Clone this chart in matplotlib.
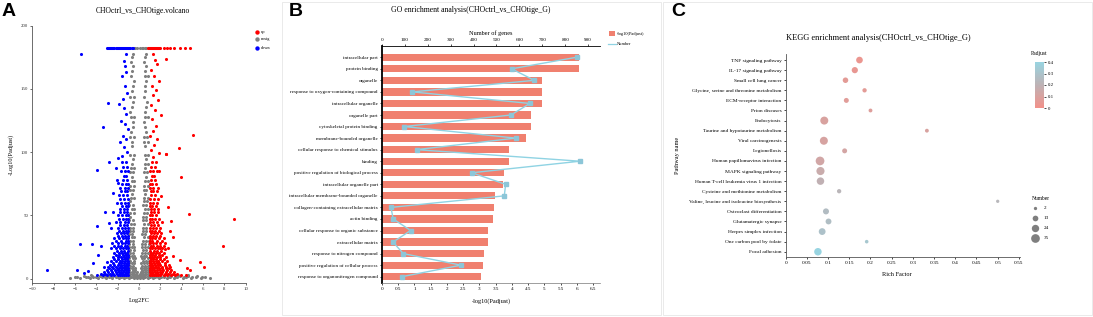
import matplotlib
matplotlib.use('Agg')
import numpy as np
import matplotlib.pyplot as plt
from matplotlib.colors import LinearSegmentedColormap
from matplotlib.patches import Rectangle

plt.rcParams['font.family'] = ['Liberation Serif', 'DejaVu Serif']

# ---------------- panel A : volcano ----------------
gray_rows = [
    (0.5, [-6.5, -5.5, -4.6, -3.8, -3.1, -2.5, -1.9, -1.4, -0.9, -0.5, -0.2, 0.1, 0.4, 0.8, 1.3, 1.9, 2.6, 3.3, 4.1, 4.9, 5.8, 6.7]),
    (1, [-6.0, -5.0, -4.3, -3.5, -2.8, -2.2, -1.7, -1.2, -0.75, -0.4, -0.1, 0.2, 0.5, 0.9, 1.4, 1.8, 2.3, 2.9, 3.6, 4.4, 5.3, 6.2]),
    (1.5, [-5.8, -4.8, -4.0, -3.2, -2.6, -2.0, -1.5, -1.0, -0.6, -0.3, 0.0, 0.3, 0.6, 1.0, 1.5, 2.1, 2.7, 3.4, 4.2, 5.0, 5.9]),
    (2.2, [-5.2, -4.4, -3.7, -3.0, -2.4, -1.8, -1.3, -0.8, -0.45, -0.15, 0.15, 0.45, 0.8, 1.2, 1.7, 2.3, 3.0, 3.8, 4.6, 5.4]),
    (3, [-4.5, -3.6, -2.9, -0.9, -0.6, -0.3, 0.0, 0.3, 0.6, 0.9, 2.9, 3.7, 4.6]),
    (4, [-0.85, -0.55, -0.3, 0.05, 0.3, 0.55, 0.8]),
    (5, [-0.95, -0.7, -0.45, -0.2, 0.15, 0.4, 0.65, 0.9]),
    (6.5, [-0.9, -0.6, -0.35, 0.25, 0.55, 0.85]),
    (8, [-0.9, -0.65, -0.4, 0.2, 0.45, 0.7, 0.9]),
    (10, [-0.85, -0.55, 0.3, 0.6, 0.85]),
    (12, [-0.95, -0.7, -0.45, 0.2, 0.45, 0.75]),
    (14, [-0.8, -0.5, 0.35, 0.65, 0.9]),
    (16, [-0.9, -0.6, -0.35, 0.25, 0.5, 0.8]),
    (18, [-0.95, -0.7, -0.45, 0.2, 0.45, 0.7]),
    (20, [-0.85, -0.6, 0.3, 0.6, 0.85]),
    (22.5, [-0.8, -0.5, 0.4, 0.7]),
    (25, [-0.95, -0.7, -0.45, 0.25, 0.55, 0.8]),
    (27.5, [-0.9, -0.6, 0.3, 0.6, 0.9]),
    (30, [-0.8, -0.55, 0.35, 0.65, 0.9]),
    (32.5, [-0.7, -0.45, 0.5, 0.8]),
    (35, [-0.9, -0.65, 0.3, 0.6]),
    (37.5, [-0.85, -0.55, 0.35, 0.7]),
    (40, [-0.85, -0.55, 0.4, 0.7]),
    (43, [-0.75, -0.5, 0.5, 0.8]),
    (46, [-0.9, -0.6, 0.35, 0.65]),
    (49, [-0.85, 0.4, 0.7]),
    (52, [-0.8, -0.5, 0.45, 0.75]),
    (55, [-0.7, -0.45, 0.55, 0.85]),
    (58, [-0.9, -0.6, 0.4, 0.7]),
    (61, [-0.8, 0.45, 0.75]),
    (64, [-0.75, -0.5, 0.5, 0.8]),
    (67, [-0.65, 0.6]),
    (70, [-0.85, -0.6, 0.45, 0.7]),
    (73.5, [-0.8, -0.5, 0.5, 0.8]),
    (77, [-0.7, -0.45, 0.55, 0.85]),
    (80.5, [-0.65, 0.65]),
    (84, [-0.8, -0.55, 0.5, 0.75]),
    (87.5, [-0.75, -0.5, 0.55]),
    (91, [-0.7, 0.6, 0.85]),
    (94.5, [-0.6, 0.7]),
    (98, [-0.85, -0.5, 0.55, 0.8]),
    (105, [-0.65, 0.6]),
    (108, [-0.7, 0.5, 0.8]),
    (112, [-0.8, -0.5, 0.5, 0.75]),
    (116, [-0.75, 0.65]),
    (120, [-0.6, 0.6]),
    (124, [-0.55, 0.5]),
    (128, [-0.75, -0.45, 0.55, 0.8]),
    (132, [-0.8, 0.6]),
    (136, [-0.65, 0.65]),
    (140, [-0.6, 0.75]),
    (144, [-0.8, -0.5, 0.5]),
    (148, [-0.7, 0.55]),
    (152, [-0.6, 0.6]),
    (156, [-0.5, 0.7]),
    (160, [-0.75, 0.55, 0.8]),
    (164, [-0.65, 0.6]),
    (168, [-0.55, 0.65]),
    (171, [-0.75, 0.5]),
    (175, [-0.7, 0.6]),
    (178, [-0.6, 0.7]),
    (182, [-0.5, -0.35, -0.2, 0.1, 0.25, 0.4, 0.55, 0.7]),
]

blue_rows = [
    (3, [-1.0, -1.2, -1.4, -1.6, -1.8, -2.0, -2.3, -2.6, -3.0, -3.4, -3.9]),
    (4, [-1.1, -1.3, -1.55, -1.75, -2.05, -2.4, -2.75, -3.15, -3.6]),
    (5, [-1.05, -1.25, -1.5, -1.7, -1.9, -2.2, -2.5, -2.9, -3.3]),
    (6.5, [-1.0, -1.2, -1.45, -1.65, -1.95, -2.25, -2.6, -3.0]),
    (8, [-1.0, -1.15, -1.35, -1.6, -1.85, -2.1, -2.4, -2.8]),
    (9.5, [-1.1, -1.3, -1.55, -1.8, -2.15, -2.5, -2.9]),
    (11, [-1.0, -1.2, -1.45, -1.7, -2.0, -2.3, -2.7]),
    (12.5, [-1.0, -1.15, -1.4, -1.65, -1.9, -2.4]),
    (14, [-1.05, -1.3, -1.55, -1.8, -2.2, -2.6]),
    (15.5, [-1.1, -1.35, -1.6, -1.95, -2.35]),
    (17, [-1.0, -1.2, -1.4, -1.7, -2.0, -2.4]),
    (18.5, [-1.0, -1.25, -1.5, -1.85, -2.15]),
    (20, [-1.1, -1.3, -1.6, -1.9, -2.3]),
    (22, [-1.05, -1.4, -1.7, -2.05]),
    (24, [-1.0, -1.25, -1.5, -1.8, -2.2, -2.6]),
    (26, [-1.1, -1.3, -1.65, -1.95, -2.35]),
    (28, [-1.05, -1.35, -1.6, -2.0, -2.5]),
    (30, [-1.0, -1.25, -1.7, -2.15]),
    (32, [-1.0, -1.2, -1.5, -1.9, -2.3]),
    (34, [-1.05, -1.3, -1.6, -2.0]),
    (36, [-1.1, -1.4, -1.7, -2.1]),
    (38, [-1.0, -1.25, -1.5, -1.85]),
    (40, [-1.0, -1.3, -1.6, -2.0, -2.6]),
    (42.5, [-1.1, -1.45, -1.75]),
    (45, [-1.05, -1.35, -1.8, -2.2]),
    (47.5, [-1.0, -1.2, -1.5, -1.9]),
    (50, [-1.0, -1.25, -1.6, -2.0]),
    (52.5, [-1.15, -1.4, -1.75]),
    (55, [-1.1, -1.45, -1.8]),
    (57.5, [-1.0, -1.25, -1.6]),
    (60, [-1.0, -1.3, -1.7, -2.1]),
    (63, [-1.05, -1.4, -1.8]),
    (66, [-1.15, -1.5, -1.9]),
    (69, [-1.1, -1.3, -1.65]),
    (72, [-1.0, -1.35, -1.75]),
    (75, [-1.0, -1.25, -1.6]),
    (78, [-1.1, -1.5, -2.1]),
    (81.5, [-1.2, -1.45]),
    (85, [-1.0, -1.3, -1.7]),
    (88, [-1.1, -1.5]),
    (92, [-1.2, -1.6]),
    (182, [-3.0, -2.9, -2.8, -2.7, -2.6, -2.5, -2.4, -2.3, -2.2, -2.1, -2.0, -1.9, -1.8,
           -1.7, -1.6, -1.5, -1.4, -1.3, -1.2, -1.1, -1.0, -0.9, -0.8, -0.7, -0.6]),
]
blue_extra_x = [-1.2, -1.4, -1.3, -1.2, -1.6, -1.3, -1.1, -1.5, -1.9, -1.4, -1.2, -1.7, -1.3, -1.0,
                -1.5, -1.2, -1.8, -1.4, -1.1, -1.6, -2.0, -5.4, -2.9, -3.4, -3.96, -2.8, -3.2, -3.96,
                -2.8, -2.46, -5.5, -4.4, -8.6, -3.6, -3.8, -5.8, -4.8, -2.2, -2.0, -2.4, -4.3, -3.3,
                -3.0, -5.2]
blue_extra_y = [178, 172, 168, 163, 160, 152, 147, 142, 138, 135, 130, 125, 122, 118,
                113, 110, 108, 104, 100, 97, 95, 178, 139, 120, 86, 92, 52.7, 41.8,
                44, 53, 27.3, 27.3, 6.6, 25.4, 18.8, 6.7, 5.6, 87.6, 75.7, 68, 12, 9.5,
                13.5, 4.3]

red_rows = [
    (3, [1.0, 1.2, 1.4, 1.6, 1.8, 2.0, 2.3, 2.6, 3.0, 3.4, 3.9, 4.4]),
    (4, [1.1, 1.3, 1.55, 1.75, 2.05, 2.4, 2.75, 3.15, 3.6]),
    (5, [1.05, 1.25, 1.5, 1.7, 1.95, 2.2, 2.5, 2.9, 3.3]),
    (6.5, [1.0, 1.2, 1.45, 1.65, 1.95, 2.25, 2.6, 3.0]),
    (8, [1.0, 1.2, 1.4, 1.65, 1.9, 2.2, 2.5, 2.8]),
    (9.5, [1.1, 1.3, 1.55, 1.8, 2.15, 2.5, 2.9]),
    (11, [1.0, 1.25, 1.5, 1.75, 2.0, 2.4, 2.8]),
    (12.5, [1.0, 1.15, 1.4, 1.65, 1.9, 2.4]),
    (14, [1.05, 1.3, 1.55, 1.8, 2.2, 2.6]),
    (15.5, [1.1, 1.35, 1.6, 1.95, 2.35]),
    (17, [1.0, 1.2, 1.45, 1.7, 2.0, 2.5]),
    (18.5, [1.0, 1.25, 1.5, 1.85, 2.15]),
    (20, [1.1, 1.3, 1.6, 1.9, 2.3]),
    (22, [1.05, 1.4, 1.7, 2.05]),
    (24, [1.0, 1.25, 1.5, 1.8, 2.2, 2.7]),
    (26, [1.1, 1.3, 1.65, 1.95, 2.35]),
    (28, [1.05, 1.35, 1.6, 2.0, 2.4]),
    (30, [1.0, 1.25, 1.7, 2.15]),
    (32, [1.0, 1.2, 1.5, 1.9, 2.3]),
    (34, [1.05, 1.3, 1.6, 2.0]),
    (36, [1.1, 1.4, 1.7, 2.1]),
    (38, [1.0, 1.25, 1.5, 1.85]),
    (40, [1.0, 1.3, 1.6, 2.0]),
    (42.5, [1.1, 1.45, 1.75]),
    (45, [1.05, 1.35, 1.7, 2.2]),
    (47.5, [1.0, 1.2, 1.5, 1.9]),
    (50, [1.0, 1.25, 1.6]),
    (52.5, [1.15, 1.4, 1.75]),
    (55, [1.1, 1.45, 1.8]),
    (57.5, [1.0, 1.25, 1.6]),
    (60, [1.0, 1.3, 1.7]),
    (63, [1.05, 1.4, 1.8]),
    (66, [1.15, 1.5]),
    (69, [1.1, 1.3, 1.65]),
    (72, [1.0, 1.35, 1.75]),
    (75, [1.0, 1.25, 1.6]),
    (78, [1.1, 1.5]),
    (81.5, [1.2, 1.45]),
    (85, [1.0, 1.3, 1.7]),
    (88, [1.1, 1.5]),
    (92, [1.2, 1.6]),
    (182, [0.8, 0.9, 1.0, 1.1, 1.2, 1.3, 1.4, 1.5, 1.6, 1.7, 1.8, 1.9, 2.0, 2.3, 2.6,
           2.9, 3.3, 3.8, 4.3, 4.8]),
]
red_extra_x = [1.3, 1.5, 1.7, 2.5, 1.1, 1.4, 1.9, 1.2, 1.6, 1.3, 1.8, 1.1, 1.5, 2.1, 1.2, 1.6,
               1.3, 1.0, 1.7, 1.4, 1.1, 1.9, 1.3, 5.1, 3.76, 2.54, 3.95, 4.7, 8.9, 7.85, 5.7,
               6.1, 2.75, 2.98, 1.9, 2.5, 2.1, 2.9, 3.2, 2.0, 2.45, 3.85, 4.5, 4.8, 3.2]
red_extra_y = [178, 173, 170, 174, 165, 160, 156, 152, 149, 145, 141, 137, 133, 129, 126, 121,
               117, 113, 110, 106, 102, 99, 96, 113.8, 103.5, 98.7, 80, 51, 47.1, 26, 13.5,
               9, 56.7, 45.8, 85, 98.7, 65.6, 37.3, 32.9, 24, 23.3, 14.8, 8.2, 6.8, 17.5]

# ---------------- panel B : GO enrichment ----------------
go_terms = ['intracellular part', 'protein binding', 'organelle',
            'response to oxygen-containing compound', 'intracellular organelle',
            'organelle part', 'cytoskeletal protein binding', 'membrane-bounded organelle',
            'cellular response to chemical stimulus', 'binding',
            'positive regulation of biological process', 'intracellular organelle part',
            'intracellular membrane-bounded organelle',
            'collagen-containing extracellular matrix', 'actin binding',
            'cellular response to organic substance', 'extracellular matrix',
            'response to nitrogen compound', 'positive regulation of cellular process',
            'response to organonitrogen compound']
go_padj = [6.06, 6.06, 4.92, 4.92, 4.92, 4.58, 4.58, 4.42, 3.92, 3.92,
           3.75, 3.73, 3.47, 3.44, 3.41, 3.27, 3.25, 3.14, 3.12, 3.06]
go_num = [850, 566, 665, 132, 646, 563, 97, 584, 151, 865,
          392, 540, 534, 39, 49, 125, 48, 93, 345, 86]

# ---------------- panel C : KEGG enrichment ----------------
kegg_terms = ['TNF signaling pathway', 'IL-17 signaling pathway', 'Small cell lung cancer',
              'Glycine, serine and threonine metabolism', 'ECM-receptor interaction',
              'Prion diseases', 'Endocytosis', 'Taurine and hypotaurine metabolism',
              'Viral carcinogenesis', 'Legionellosis', 'Human papillomavirus infection',
              'MAPK signaling pathway', 'Human T-cell leukemia virus 1 infection',
              'Cysteine and methionine metabolism',
              'Valine, leucine and isoleucine biosynthesis', 'Osteoclast differentiation',
              'Glutamatergic synapse', 'Herpes simplex infection',
              'One carbon pool by folate', 'Focal adhesion']
kegg_rich = [0.174, 0.163, 0.141, 0.186, 0.143, 0.2, 0.091, 0.333, 0.090, 0.139,
             0.081, 0.082, 0.082, 0.126, 0.5, 0.095, 0.101, 0.086, 0.191, 0.076]
kegg_num = [19, 16, 12, 6, 9, 4, 29, 4, 29, 9, 35, 30, 25, 6, 2, 15, 14, 20, 3, 25]
kegg_padj = [0.03, 0.04, 0.06, 0.06, 0.07, 0.08, 0.1, 0.1, 0.11, 0.12,
             0.13, 0.16, 0.19, 0.22, 0.23, 0.26, 0.27, 0.29, 0.32, 0.4]
num_legend = [2, 13, 24, 35]


def flat(rows):
    xs, ys = [], []
    for yv, row in rows:
        xs += row
        ys += [yv] * len(row)
    return xs, ys


W, H = 1093, 317
fig = plt.figure(figsize=(W / 100, H / 100), dpi=100)


def box(l, t, r, b):
    return [l / W, 1 - b / H, (r - l) / W, (b - t) / H]


# ---- A
axA = fig.add_axes(box(32.3, 25.7, 245.7, 283))
gx, gy = flat(gray_rows)
bx, by = flat(blue_rows)
rx, ry = flat(red_rows)
axA.scatter(gx, gy, s=5, c='#7f7f7f', lw=0)
axA.scatter(bx + blue_extra_x, by + blue_extra_y, s=5, c='#0000ff', lw=0)
axA.scatter(rx + red_extra_x, ry + red_extra_y, s=5, c='#ff0000', lw=0)
axA.set_xlim(-10, 10)
axA.set_ylim(-3.5, 200)
axA.set_xticks(range(-10, 11, 2))
axA.set_yticks([0, 50, 100, 150, 200])
for s in ['top', 'right']:
    axA.spines[s].set_visible(False)
for s in ['left', 'bottom']:
    axA.spines[s].set_linewidth(0.6)
    axA.spines[s].set_color('#555555')
axA.tick_params(labelsize=3.5, length=1.5, width=0.5, pad=1.5, colors='#333333')
axA.set_xlabel('Log2FC', fontsize=4.5, labelpad=5)
axA.set_ylabel('-Log10(Padjust)', fontsize=4.5, labelpad=5)

# ---- B
axB = fig.add_axes(box(382, 45.7, 600, 283.3))
ypos = np.arange(len(go_terms))
bar_col = '#f0806f'
line_col = '#8fd3e3'
axB.barh(ypos, go_padj, height=0.63, color=bar_col)
axB.set_xlim(0, 6.71)
axB.set_ylim(19.57, -1.0)
ticks = np.arange(0, 6.51, 0.5)
axB.set_xticks(ticks)
axB.set_xticklabels(['%g' % t for t in ticks])
axB.set_yticks(ypos)
axB.set_yticklabels(go_terms, fontsize=3.7)
axB.tick_params(axis='x', labelsize=3.7, length=1.5, width=0.5, pad=1.5)
axB.tick_params(axis='y', length=1.5, width=0.5, pad=1.5)
axB.spines['right'].set_visible(False)
axB.spines['top'].set_visible(False)
axB.spines['left'].set_linewidth(1.3)
axB.spines['bottom'].set_linewidth(0.5)
axB.spines['bottom'].set_color('#777777')
axB.set_xlabel('-log10(Padjust)', fontsize=4.5, labelpad=5)

axB2 = axB.twiny()
axB2.plot(go_num, ypos, color=line_col, lw=1, marker='s', ms=3.2,
          mfc='#8cc6d8', mec='#8cc6d8')
axB2.set_xlim(0, 952)
axB2.set_xticks(range(0, 901, 100))
axB2.tick_params(axis='x', labelsize=3.7, length=1.5, width=0.5, pad=1)
for s in ['right', 'bottom', 'left']:
    axB2.spines[s].set_visible(False)
axB2.spines['top'].set_linewidth(0.6)
axB2.set_xlabel('Number of genes', fontsize=4.5, labelpad=2)

# ---- C
cmap = LinearSegmentedColormap.from_list('padj', ['#f2857d', '#b7aaad', '#8dd0de'])
axC = fig.add_axes(box(785.7, 54.3, 1020, 257.3))
kpos = np.arange(len(kegg_terms))
sizes = [3.6 + 1.02 * n for n in kegg_num]
sc = axC.scatter(kegg_rich, kpos, s=sizes, c=kegg_padj, cmap=cmap, vmin=0, vmax=0.4,
                 lw=0, alpha=0.9)
axC.set_xlim(0, 0.5526)
axC.set_ylim(19.55, -0.57)
cticks = np.arange(0, 0.551, 0.05)
axC.set_xticks(cticks)
axC.set_xticklabels(['%g' % round(t, 2) for t in cticks])
axC.set_yticks(kpos)
axC.set_yticklabels(kegg_terms, fontsize=3.9)
axC.tick_params(labelsize=3.9, length=1.5, width=0.5, pad=1.5)
for s in ['top', 'right']:
    axC.spines[s].set_visible(False)
for s in ['left', 'bottom']:
    axC.spines[s].set_linewidth(0.6)
    axC.spines[s].set_color('#555555')

cax = fig.add_axes(box(1035, 62, 1044, 108))
cb = fig.colorbar(sc, cax=cax, ticks=[0, 0.1, 0.2, 0.3, 0.4])
cb.outline.set_visible(False)
cb.ax.set_yticklabels(['0', '0.1', '0.2', '0.3', '0.4'])
cb.ax.tick_params(labelsize=3.5, length=1.5, width=0.5, pad=1)

# ---- overlay for letters, titles, legends and frames
ov = fig.add_axes([0, 0, 1, 1])
ov.set_xlim(0, W)
ov.set_ylim(H, 0)
ov.axis('off')
ov.patch.set_visible(False)

ov.add_patch(Rectangle((282, 2), 379, 313, fill=False, ec='#e6e6e6', lw=0.6))
ov.add_patch(Rectangle((663, 2), 429, 313, fill=False, ec='#e6e6e6', lw=0.6))

for lab, x in [('A', 2), ('B', 289), ('C', 671)]:
    ov.text(x, 12, lab, fontsize=14, fontweight='bold', family='Liberation Sans',
            ha='left', va='center')

ov.text(143, 11, 'CHOctrl_vs_CHOtige.volcano', fontsize=5.5, ha='center', va='center')
ov.text(471, 10, 'GO enrichment analysis(CHOctrl_vs_CHOtige_G)', fontsize=5.6,
        ha='center', va='center')
ov.text(878, 38, 'KEGG enrichment analysis(CHOctrl_vs_CHOtige_G)', fontsize=6,
        ha='center', va='center')

# legend A
for yy, col, lab in [(31.7, '#ff0000', 'up'), (39.3, '#7f7f7f', 'nosig'), (48.3, '#0000ff', 'down')]:
    ov.scatter([256.7], [yy], s=10, c=col, lw=0)
    ov.text(260.5, yy, lab, fontsize=3.2, va='center')

# legend B
ov.add_patch(Rectangle((608.5, 31), 6, 5, color=bar_col, lw=0))
ov.plot([608, 615.5], [43.7, 43.7], color=line_col, lw=0.9)
ov.text(617, 33.5, '-log10(Padjust)', fontsize=3.2, va='center')
ov.text(617, 43.7, 'Number', fontsize=3.2, va='center')

# labels C
ov.text(677, 155, 'Pathway name', fontsize=4.5, rotation=90, ha='center', va='center')
ov.text(897, 274, 'Rich Factor', fontsize=4.5, ha='center', va='center')
ov.text(1039, 53, 'Padjust', fontsize=4, ha='center', va='center')
ov.text(1041, 199, 'Number', fontsize=4, ha='center', va='center')
for i, n in enumerate(num_legend):
    yy = 208 + 10 * i
    ov.scatter([1035], [yy], s=3.6 + 1.02 * n, c='#7f7f7f', lw=0)
    ov.text(1044, yy, str(n), fontsize=3.7, va='center')

fig.savefig('out.png', dpi=100)
